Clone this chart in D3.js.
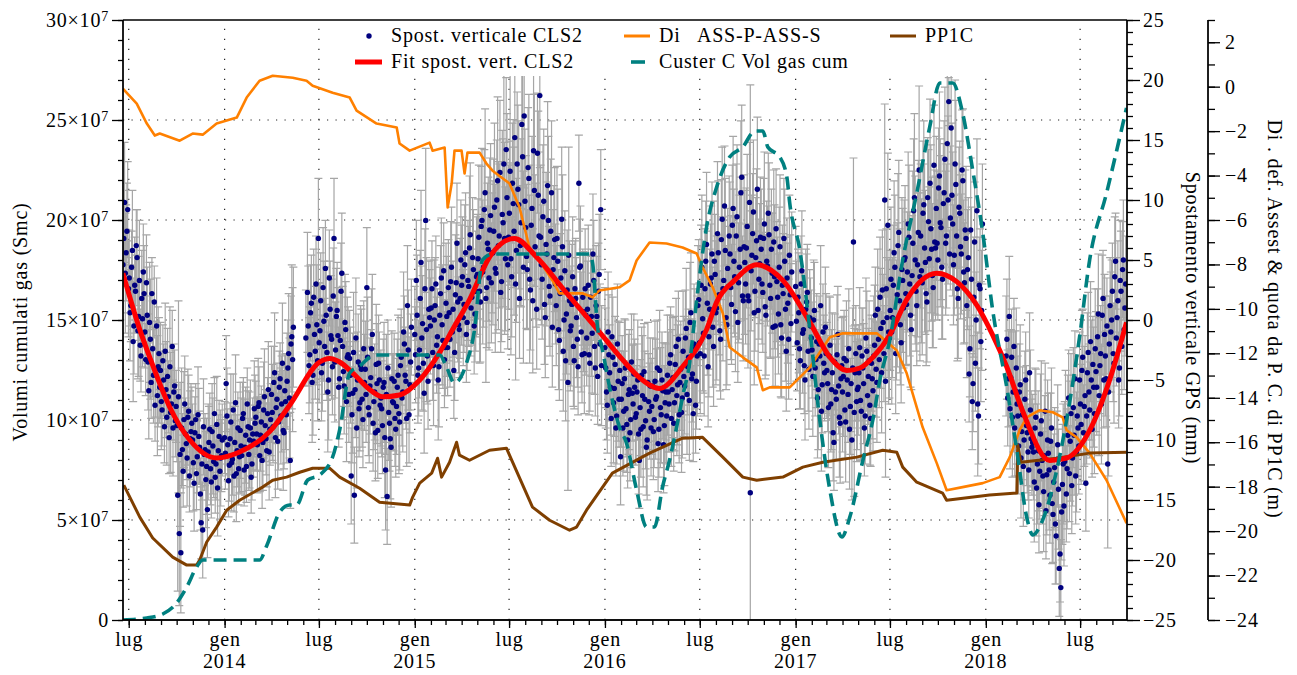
<!DOCTYPE html>
<html>
<head>
<meta charset="utf-8">
<script src="https://cdn.jsdelivr.net/npm/d3@7"></script>
<style>
body { margin: 0; background: #fff; }
svg text { font-family: "Liberation Serif", serif; font-size: 20px; letter-spacing: 0.8px; fill: #000; }
.axis path, .axis line { stroke: #000; stroke-width: 1.3; }
</style>
</head>
<body>
<svg id="chart" width="1297" height="675"></svg>
<script>
// ---- GPS vertical displacement (mm), one value every 3 days from each start date ----
const gps2013 = [4.6, 9.8, 5.6, 9.2,
  3.5, 1.2, 5.8, -0.5, 2.4, 5.2, 0.3, -2.1, 1.8, 4.0,
  -1.0, 3.1, -3.5, -0.2, -5.2, -2.4, 1.5, -4.1, -6.3, -2.8,
  -4.2, -7.5, -5.0, -2.6, -8.1, -6.4, -3.9, -7.0, -9.0, -5.5,
  -7.2, -14.6, -17.8, -19.4, -10.8, -8.3, -9.5, -11.5, -7.6, -9.9,
  -8.6, -11.9, -9.4, -12.8, -7.9, -10.6, -16.9, -17.5, -11.2, -13.3,
  -15.8, -10.2, -12.4, -9.3, -11.8, -13.1, -8.7, -10.9, -12.6, -11.3];
const gps2013b = [6.8, 3.9, 7.4, 2.6,
  0.6, 4.4, -1.8, 2.9, 6.2, -0.9, 3.3, -3.0, 0.1, 2.2,
  -3.3, 0.4, -5.9, -1.6, 2.2, -4.6, -7.1, -0.5, -3.9, -5.6,
  -6.8, -3.4, -8.9, -5.8, -4.7, -9.8, -7.7, -2.2, -6.0, -8.4,
  -8.8, -6.4, -11.2, -9.0, -12.6, -7.0, -10.3, -8.1, -13.0, -9.3,
  -10.0, -13.6, -8.3, -11.4, -9.7, -14.5, -12.0, -8.9, -10.8, -12.2,
  -11.0, -9.1, -13.5, -10.5, -7.8, -12.0, -14.0, -9.7, -11.5, -10.0];
const err2013 = [4, 5, 4, 4,
  4, 3, 5, 4, 3, 4, 5, 3, 4, 4,
  3, 4, 4, 5, 3, 4, 3, 4, 5, 3,
  4, 3, 3, 4, 4, 3, 5, 3, 4, 3,
  3, 8, 6, 5, 3, 4, 3, 4, 3, 4,
  3, 4, 3, 3, 4, 3, 3, 4, 3, 4,
  4, 3, 3, 4, 3, 3, 4, 3, 4, 3];

const gps2014 = [-9.8, -5.3, -10.4, -12.1, -8.5, -11.6, -13.0, -6.9, -10.9, -12.4,
  -9.2, -11.3, -7.8, -10.6, -12.2, -8.9, -10.0, -13.1, -9.5, -7.4,
  -8.1, -10.4, -6.9, -9.6, -11.7, -7.5, -8.8, -10.9, -5.8, -9.1,
  -6.2, -8.9, -4.4, -7.3, -10.1, -5.6, -8.0, -3.6, -9.4, -6.8,
  -5.1, -2.8, -11.7, -1.4, -0.6, null, null, null, null, null,
  null, null, -1.5, 2.3, -3.8, 0.6, -5.2, 1.9, -2.6, -0.4,
  6.8, -0.9, -4.4, 2.7, -2.2, 0.4, -6.0, 3.5, -1.3, -3.9,
  6.8, -2.5, 0.8, -5.6, -1.7, 3.9, -4.3, -0.2, -6.8, -2.9,
  -3.2, -13.0, -6.1, -14.6, -1.5, -5.0, -7.4, -3.8, -6.6, -2.4,
  -4.1, 2.7, -7.3, -5.5, -2.4, -8.6, -6.0, -3.7, -9.2, -5.0,
  -6.5, -8.8, -5.2, -12.5, -14.7, -7.7, -9.9, -4.9, -6.9, -8.2,
  -7.2, -4.6, -8.5, -3.1, -6.0, -2.0, -5.1, 1.2, -7.9, -3.5];
const gps2014b = [-11.1, -8.0, -13.4, -9.9, -11.9, -7.5, -10.2, -12.8, -9.0, -11.4,
  -10.5, -8.2, -12.5, -9.6, -7.0, -11.2, -9.0, -12.0, -10.1, -8.6,
  -9.5, -7.2, -11.3, -8.5, -10.2, -6.4, -9.9, -7.8, -11.0, -8.3,
  -7.7, -5.2, -9.8, -6.6, -8.5, -4.9, -7.0, -9.2, -5.9, -7.9,
  -4.0, -6.5, -2.0, -3.3, null, null, null, null, null, null,
  null, null, null, -0.5, -2.9, 1.4, -4.6, -1.2, 3.0, -3.4,
  -1.9, 1.6, -3.6, -0.1, 4.3, -2.7, -5.0, 0.9, -1.6, 2.0,
  -3.5, 0.3, -1.3, -4.9, 2.4, -2.2, -5.5, -0.8, -3.1, -6.2,
  -4.6, -7.9, -2.7, -5.8, -9.0, -3.5, -6.9, -4.1, -8.3, -5.2,
  -6.2, -3.1, -7.9, -4.8, -1.2, -6.8, -9.4, -5.3, -3.6, -7.1,
  -7.4, -5.6, -9.8, -6.2, -4.0, -8.6, -10.6, -6.8, -5.1, -9.1,
  -5.6, -7.8, -3.8, -6.5, -1.0, -4.6, -8.2, -2.5, -5.4, -0.6];
const err2014 = [3, 4, 3, 3, 4, 3, 3, 4, 3, 3,
  4, 3, 3, 4, 3, 3, 4, 3, 3, 4,
  3, 4, 3, 3, 4, 4, 3, 3, 4, 3,
  4, 3, 5, 3, 4, 3, 4, 5, 3, 4,
  4, 5, 4, 6, 5, 0, 0, 0, 0, 0,
  0, 0, 4, 5, 4, 4, 5, 4, 4, 5,
  5, 4, 4, 5, 4, 4, 5, 4, 5, 4,
  5, 4, 4, 5, 4, 5, 4, 4, 5, 4,
  4, 4, 5, 4, 5, 4, 4, 5, 4, 4,
  4, 5, 4, 4, 5, 4, 4, 5, 4, 4,
  4, 4, 5, 5, 4, 4, 5, 4, 4, 4,
  4, 5, 4, 4, 5, 4, 4, 5, 4, 4];

const gps2015 = [-1.2, 3.3, -4.6, -2.5, 4.8, -0.3, -6.1, 8.3, -3.0, 0.9,
  -0.5, 2.6, -3.8, 1.2, -2.1, -5.0, 0.4, 3.5, -1.7, -3.3,
  1.4, -2.3, 0.6, 3.2, -1.0, -4.2, 2.1, 6.4, -0.4, 1.8,
  2.9, 0.2, 4.6, -1.2, 3.3, 6.0, 1.0, 5.2, -0.5, 2.4,
  3.8, 6.9, 1.5, 8.3, 4.4, 10.6, 2.7, 5.9, 7.5, 3.1,
  5.6, 9.4, 3.9, 11.6, 7.0, 2.3, 8.8, 13.0, 5.1, 10.2,
  6.9, 12.4, 3.6, 9.7, 15.2, 5.8, 10.9, 1.8, 8.1, 13.6,
  17.0, 7.7, 4.2, 11.8, 2.5, 9.3, 14.1, 6.1, 0.9, 10.4,
  18.7, 4.6, 8.6, 1.3, 6.3, 11.2, 2.8, 7.4, -0.6, 5.2,
  3.0, 6.8, -0.8, 2.2, 8.4, -2.6, 4.1, 0.5, -5.2, 1.6,
  -0.5, 3.6, -3.4, 1.8, -1.6, 11.4, 4.5, -2.9, 0.7, 2.6,
  -1.5, 2.9, -3.6, 0.3, 5.5, -2.2, 1.2, -4.7, 3.8, 9.2];
const gps2015b = [-2.9, 0.4, -4.0, 1.8, -1.5, -3.6, 2.6, -0.8, -5.1, 0.2,
  1.0, -2.7, 0.0, 3.0, -1.4, -3.9, 2.2, -0.4, 4.1, -2.3,
  0.3, 2.7, -1.6, 4.4, 0.9, -2.7, 3.1, 1.5, -0.8, 5.0,
  3.6, 1.3, 5.6, -0.2, 2.8, 7.1, 1.9, 4.2, 0.5, 3.6,
  5.1, 2.4, 7.8, 4.0, 9.2, 1.8, 6.4, 3.5, 8.7, 5.6,
  7.4, 4.3, 10.0, 6.2, 12.3, 3.2, 8.1, 6.8, 14.2, 4.6,
  8.9, 5.1, 11.4, 7.4, 3.0, 13.0, 9.6, 6.2, 16.3, 4.4,
  9.9, 5.3, 12.7, 3.4, 7.9, 1.6, 10.8, 5.4, 13.9, 7.0,
  6.9, 3.4, 9.9, 0.2, 5.5, 8.3, 2.0, 10.6, 4.2, 6.7,
  1.2, 4.9, -1.7, 3.5, 6.1, 0.0, -3.4, 2.5, 5.4, -0.9,
  1.3, -2.2, 2.6, 0.2, -3.9, 4.4, -1.0, 1.9, -2.8, 0.4,
  0.9, -2.9, 1.9, -1.1, 3.3, -4.0, 0.3, 2.4, -2.0, -3.8];
const err2015 = [4, 5, 4, 4, 6, 4, 5, 6, 4, 4,
  4, 4, 5, 4, 4, 5, 4, 5, 4, 4,
  5, 4, 4, 5, 4, 4, 5, 5, 4, 5,
  5, 4, 5, 4, 5, 6, 4, 5, 4, 5,
  5, 6, 5, 6, 5, 7, 5, 6, 6, 5,
  6, 7, 5, 7, 6, 5, 7, 8, 6, 7,
  6, 8, 5, 7, 8, 6, 7, 5, 7, 8,
  6, 6, 5, 7, 5, 6, 8, 6, 5, 7,
  6, 5, 6, 5, 6, 7, 5, 6, 5, 6,
  5, 6, 5, 5, 6, 5, 5, 5, 9, 5,
  5, 5, 4, 5, 4, 4, 5, 4, 5, 5,
  4, 5, 4, 5, 5, 4, 5, 4, 5, 5];

const gps2016 = [-2.3, -6.0, -1.0, -4.4, -8.2, -3.1, -5.7, -9.0, -2.0, -6.6,
  -11.4, -5.3, -7.6, -4.0, -8.7, -6.2, -9.4, -3.5, -7.0, -5.6,
  -7.8, -5.0, -11.7, -9.1, -6.3, -4.3, -8.4, -10.0, -6.8, -5.5,
  -7.2, -9.3, -5.1, -6.4, -10.3, -4.2, -7.9, -5.9, -8.8, -6.0,
  -4.6, -7.0, -2.9, -5.8, -8.6, -3.7, -6.3, -1.6, -5.2, -7.7,
  -2.6, -5.5, -0.7, -3.9, -6.7, 0.6, -4.5, -2.0, -7.1, -3.0,
  1.7, -2.8, 4.4, -1.1, 2.6, 6.3, -3.9, 0.9, 3.5, -0.6,
  4.9, 0.6, 7.2, 2.1, -1.6, 8.4, 3.3, 5.8, -0.4, 2.8,
  5.5, 1.3, 9.3, 3.6, 7.0, -0.2, 4.4, 10.6, 2.0, 6.1,
  3.0, 7.8, 1.6, -14.4, 5.4, 9.0, 2.4, 6.6, 0.8, 4.7,
  5.9, 2.3, 8.0, 0.4, 4.5, 7.1, 1.8, 3.9, 6.5, -0.5,
  3.2, 0.5, 6.1, -1.5, 2.2, 4.9, -2.6, 1.4, 5.4, -0.3];
const gps2016b = [-4.0, -7.1, -2.9, -5.6, -1.4, -6.9, -3.7, -8.0, -5.1, -4.2,
  -6.6, -9.0, -4.9, -7.4, -10.0, -5.8, -8.3, -6.1, -4.5, -8.1,
  -6.0, -9.5, -7.3, -4.6, -8.9, -6.6, -10.6, -5.2, -7.6, -9.0,
  -5.5, -8.3, -6.6, -4.0, -9.1, -7.3, -5.0, -10.4, -6.9, -8.0,
  -6.0, -3.6, -8.2, -4.8, -6.9, -2.2, -5.4, -7.9, -4.1, -6.5,
  -4.7, -1.5, -6.2, -3.1, -0.2, -4.9, -7.8, -2.4, -5.1, 1.2,
  -1.9, 2.9, 0.1, -3.0, 4.9, 1.4, -1.4, 3.0, 5.5, -2.2,
  3.8, 1.0, 5.6, -0.9, 6.7, 2.6, 9.5, 0.2, 4.3, 7.0,
  2.7, 7.9, 4.9, 0.7, 8.6, 3.1, 5.9, 11.9, 1.6, 4.8,
  6.0, 2.0, 9.8, 4.1, 7.2, 0.6, 5.2, 10.9, 3.4, 6.9,
  3.0, 6.8, 1.1, 4.9, 8.9, 2.9, 5.9, -0.6, 3.6, 7.6,
  1.9, 4.4, -0.4, 2.9, 6.8, 0.9, 3.5, -1.6, 2.1, 4.0];
const err2016 = [5, 4, 5, 4, 4, 5, 4, 4, 5, 4,
  4, 4, 5, 4, 4, 5, 4, 4, 5, 4,
  4, 5, 4, 4, 5, 4, 4, 5, 4, 4,
  4, 4, 5, 4, 4, 5, 4, 4, 5, 4,
  5, 4, 4, 5, 4, 4, 5, 4, 4, 5,
  5, 4, 5, 4, 5, 5, 4, 5, 4, 5,
  5, 5, 6, 5, 5, 6, 5, 5, 6, 5,
  5, 6, 6, 5, 5, 6, 5, 6, 5, 5,
  6, 5, 6, 5, 6, 5, 6, 6, 5, 6,
  5, 6, 5, 34, 5, 6, 5, 6, 5, 5,
  5, 5, 6, 5, 5, 6, 5, 5, 6, 5,
  5, 5, 6, 5, 5, 6, 5, 5, 5, 5];
const err2016b = [5, 4, 5, 4, 4, 5, 4, 4, 5, 4,
  4, 4, 5, 4, 4, 5, 4, 4, 5, 4,
  4, 5, 4, 4, 5, 4, 4, 5, 4, 4,
  4, 4, 5, 4, 4, 5, 4, 4, 5, 4,
  5, 4, 4, 5, 4, 4, 5, 4, 4, 5,
  5, 4, 5, 4, 5, 5, 4, 5, 4, 5,
  5, 5, 6, 5, 5, 6, 5, 5, 6, 5,
  5, 6, 6, 5, 5, 6, 5, 6, 5, 5,
  6, 5, 6, 5, 6, 5, 6, 6, 5, 6,
  5, 6, 5, 5, 5, 6, 5, 6, 5, 5,
  5, 5, 6, 5, 5, 6, 5, 5, 6, 5,
  5, 5, 6, 5, 5, 6, 5, 5, 5, 5];

const gps2017 = [2.8, -1.9, 0.6, -3.4, 4.1, -0.8, -5.0, 1.5, -2.6, 0.2,
  -1.5, -4.7, 0.8, -3.3, -6.5, -2.0, 1.2, -5.4, -3.6, -0.6,
  -4.2, -7.3, -2.1, -5.8, -9.4, -3.5, -6.6, -1.2, -8.1, -4.9,
  -6.0, -3.2, -8.5, -5.0, -2.4, -7.2, -10.0, 6.5, -4.4, -6.8,
  -5.6, -2.3, -7.6, -4.0, -9.0, -1.5, -6.3, -3.4, -8.2, -4.9,
  -3.0, 0.4, -5.2, -1.6, 1.9, -4.4, -0.2, 10.0, 2.6, 7.9,
  -1.5, 3.4, 0.2, 5.6, -2.8, 2.1, 7.3, -0.4, 4.2, 1.0,
  5.2, 1.3, 8.0, 3.0, -0.8, 6.4, 10.2, 2.4, 4.6, 12.5,
  7.0, 3.1, 9.6, 4.8, 1.5, 8.2, 11.4, 5.9, 2.7, 6.5,
  9.3, 5.0, 12.0, 7.7, 3.4, 10.6, 6.4, 14.7, 18.2, 8.5,
  10.4, 4.6, 13.0, 7.0, 1.8, 8.9, 5.5, 11.6, 3.1, 6.8,
  4.2, -4.5, 7.5, -6.8, 1.9, -3.6, 9.1, -8.0, 2.6, 0.8];
const gps2017b = [-0.1, 1.9, -2.4, 3.0, -1.1, -3.8, 0.9, 2.3, -4.1, -0.5,
  -2.5, 0.0, -4.0, -1.8, -5.8, -3.0, -7.6, -1.0, -4.4, -2.8,
  -5.3, -3.0, -7.0, -4.4, -10.2, -6.0, -2.9, -5.5, -8.6, -3.8,
  -4.7, -7.5, -3.4, -6.2, -9.1, -5.3, -4.0, -7.7, -2.8, -5.8,
  -4.4, -6.7, -3.0, -5.3, -8.0, -2.6, -4.7, -7.1, -3.6, -5.9,
  -2.1, -4.1, 0.9, -3.3, -0.7, 2.5, -2.8, -5.1, 0.2, -1.0,
  0.8, -1.0, 2.9, 4.4, 0.0, 6.2, 1.6, -1.9, 3.3, 5.0,
  2.2, 4.0, 6.9, 0.4, 3.7, 9.1, 5.0, 1.2, 7.3, 3.6,
  4.1, 8.9, 6.0, 2.2, 10.2, 5.1, 7.6, 3.7, 12.9, 6.0,
  6.4, 11.0, 8.1, 4.4, 9.7, 13.4, 7.0, 10.0, 5.5, 16.0,
  8.0, 5.4, 11.3, 2.6, 9.4, 6.1, 12.5, 4.0, 7.5, 1.2,
  5.2, -2.4, 3.4, -5.3, 6.5, 0.0, -7.0, 2.9, -1.8, 8.0];
const err2017 = [5, 4, 5, 4, 5, 4, 5, 4, 5, 4,
  4, 5, 4, 4, 5, 4, 5, 4, 4, 5,
  4, 5, 4, 5, 4, 4, 5, 4, 5, 4,
  5, 4, 5, 4, 5, 4, 5, 7, 4, 5,
  4, 5, 4, 5, 4, 5, 4, 5, 4, 5,
  5, 4, 5, 4, 5, 5, 4, 8, 5, 6,
  5, 6, 5, 6, 5, 6, 6, 5, 6, 5,
  6, 5, 6, 6, 5, 6, 7, 5, 6, 7,
  6, 6, 7, 6, 5, 6, 7, 6, 5, 6,
  6, 5, 7, 6, 5, 6, 6, 7, 2, 6,
  6, 5, 7, 6, 5, 6, 5, 6, 5, 6,
  5, 4, 6, 4, 5, 4, 6, 4, 5, 5];

const gps2018 = [null, null, null, null, null, null, null, null, null, null,
  null, null, null, -3.0, -6.5, 0.3, -4.8, -8.1, -2.2, -5.9,
  -7.0, -10.5, -5.4, -9.3, -12.2, -6.6, -8.8, -11.0, -4.4, -9.9,
  -10.2, -13.5, -8.1, -12.0, -15.4, -9.5, -11.7, -14.3, -7.6, -12.9,
  -11.1, -14.6, -9.0, -16.2, -12.3, -18.0, -10.4, -20.7, -22.3, -13.7,
  -15.5, -8.2, -12.4, -6.5, -10.1, -13.8, -7.3, -4.9, -11.0, -9.0,
  -5.0, -8.7, -3.1, -7.2, -13.6, -4.4, -6.0, -1.8, -9.1, -5.6,
  -2.4, -5.6, 0.5, -3.8, -7.0, 1.8, -1.2, -4.9, -12.0, -2.0,
  -1.0, 2.4, -3.6, 4.9, 0.2, -5.0, 3.3, -2.2, 5.0, 1.0];
const gps2018b = [null, null, null, null, null, null, null, null, null, null,
  null, null, null, -1.6, -4.9, -7.4, -3.1, -6.0, -9.0, -4.0,
  -8.0, -6.0, -11.5, -7.9, -10.0, -5.0, -9.4, -12.5, -7.5, -10.6,
  -11.0, -9.0, -14.0, -10.9, -12.6, -8.4, -13.0, -11.3, -15.9, -10.0,
  -12.5, -10.1, -15.3, -13.5, -17.0, -11.6, -14.1, -19.5, -16.0, -12.0,
  -11.8, -14.5, -9.6, -12.8, -7.8, -11.5, -9.6, -13.0, -8.0, -10.5,
  -7.0, -4.2, -9.4, -6.3, -8.0, -2.7, -7.5, -5.0, -3.7, -7.8,
  -4.3, -1.4, -6.3, -2.8, 0.4, -5.0, -3.0, -0.5, -6.0, 1.2,
  0.0, -2.8, 3.6, -1.5, 1.6, -4.0, 2.4, 4.2, -0.8, 3.0];
const err2018 = [0, 0, 0, 0, 0, 0, 0, 0, 0, 0,
  0, 0, 0, 5, 4, 5, 4, 5, 4, 5,
  5, 4, 5, 4, 5, 4, 5, 4, 5, 4,
  4, 5, 4, 5, 4, 5, 4, 5, 4, 5,
  5, 4, 5, 4, 5, 4, 5, 4, 4, 5,
  5, 4, 5, 4, 5, 4, 5, 4, 5, 4,
  4, 5, 4, 5, 4, 5, 4, 5, 4, 5,
  5, 4, 5, 4, 5, 4, 5, 4, 7, 4,
  5, 4, 5, 4, 5, 4, 5, 4, 5, 4];

// ---- Fit of the GPS series (mm), dates as decimal years ----
const fitYears = [2013.465, 2013.554, 2013.606, 2013.711, 2013.817, 2013.958, 2014.079, 2014.237, 2014.342, 2014.500,
  2014.552, 2014.605, 2014.673, 2014.763, 2014.831, 2014.920, 2015.026, 2015.131, 2015.199, 2015.288,
  2015.393, 2015.524, 2015.640, 2015.798, 2015.971, 2016.092, 2016.181, 2016.286, 2016.407, 2016.533,
  2016.586, 2016.680, 2016.796, 2016.933, 2017.075, 2017.180, 2017.269, 2017.338, 2017.406, 2017.495,
  2017.584, 2017.742, 2017.847, 2017.952, 2018.036, 2018.110, 2018.194, 2018.336, 2018.425, 2018.546,
  2018.651, 2018.740];
const fitMm = [3.9, -0.8, -3.1, -7.25, -10, -11.5, -11, -9.3, -7.1, -3.5,
  -3.2, -3.5, -4.4, -5.8, -6.4, -6.25, -5, -2.7, -0.8, 1.7,
  5.25, 6.8, 5.25, 2.25, -1, -3.3, -4.8, -5.7, -3.9, -0.8,
  1.5, 3.3, 4.6, 3.3, -0.2, -3.1, -4.2, -4, -3.1, -1.25,
  1.7, 3.9, 3.2, 1.25, -1.25, -3.9, -7.6, -11.7, -11.5, -9.2,
  -5, -0.2];

// ---- Di ASS-P-ASS-S (m) ----
const orangeYears = [2013.465, 2013.538, 2013.591, 2013.633, 2013.659, 2013.764, 2013.832, 2013.885, 2013.958, 2014.064,
  2014.116, 2014.184, 2014.253, 2014.358, 2014.431, 2014.463, 2014.568, 2014.658, 2014.694, 2014.799,
  2014.905, 2014.920, 2014.973, 2015.078, 2015.094, 2015.157, 2015.173, 2015.194, 2015.209, 2015.246,
  2015.262, 2015.277, 2015.341, 2015.377, 2015.409, 2015.498, 2015.551, 2015.603, 2015.656, 2015.724,
  2015.761, 2015.882, 2015.935, 2015.971, 2016.076, 2016.129, 2016.166, 2016.234, 2016.323, 2016.407,
  2016.481, 2016.512, 2016.565, 2016.618, 2016.654, 2016.723, 2016.796, 2016.828, 2016.864, 2016.969,
  2017.075, 2017.180, 2017.248, 2017.427, 2017.532, 2017.584, 2017.668, 2017.742, 2017.794, 2017.878,
  2017.984, 2018.073, 2018.126, 2018.178, 2018.215, 2018.283, 2018.352, 2018.404, 2018.425, 2018.478,
  2018.546, 2018.635, 2018.740];
const orangeM = [-0.09, -0.76, -1.66, -2.20, -2.11, -2.43, -2.11, -2.16, -1.66, -1.39,
  -0.49, 0.27, 0.49, 0.40, 0.27, 0.04, -0.27, -0.49, -1.08, -1.66,
  -1.84, -2.56, -2.88, -2.52, -2.88, -2.74, -5.44, -4.36, -2.88, -2.88,
  -3.91, -2.97, -2.97, -3.46, -3.78, -4.36, -5.44, -7.24, -7.82, -8.72,
  -9.30, -9.30, -9.48, -9.17, -9.03, -8.72, -7.82, -7.01, -7.06, -7.24,
  -7.51, -8.13, -9.03, -10.20, -11.73, -12.18, -12.63, -13.66, -13.53, -13.53,
  -12.63, -11.28, -11.10, -11.10, -11.87, -12.90, -15.33, -16.94, -18.16, -18.02,
  -17.84, -17.57, -16.67, -15.46, -14.88, -14.56, -14.65, -14.88, -15.46, -15.78,
  -16.49, -17.71, -19.64];

// ---- PP1C (m) ----
const brownYears = [2013.470, 2013.554, 2013.622, 2013.727, 2013.801, 2013.853, 2013.869, 2013.906, 2013.958, 2014.011,
  2014.079, 2014.200, 2014.253, 2014.326, 2014.395, 2014.463, 2014.552, 2014.605, 2014.710, 2014.815,
  2014.973, 2014.989, 2015.026, 2015.089, 2015.120, 2015.141, 2015.183, 2015.220, 2015.235, 2015.288,
  2015.393, 2015.482, 2015.619, 2015.709, 2015.814, 2015.851, 2015.903, 2016.039, 2016.234, 2016.407,
  2016.512, 2016.618, 2016.723, 2016.796, 2016.933, 2017.038, 2017.143, 2017.322, 2017.458, 2017.532,
  2017.563, 2017.637, 2017.773, 2017.794, 2018.020, 2018.163, 2018.168, 2018.184, 2018.373, 2018.546,
  2018.740];
const brownM = [-17.93, -19.37, -20.31, -21.17, -21.53, -21.53, -21.30, -20.49, -19.82, -19.06,
  -18.61, -18.02, -17.71, -17.57, -17.35, -17.17, -17.17, -17.57, -18.07, -18.70,
  -18.83, -18.47, -17.84, -17.39, -16.72, -17.57, -16.90, -16.00, -16.58, -16.81,
  -16.36, -16.27, -18.92, -19.51, -19.96, -19.82, -19.06, -17.39, -16.49, -15.82,
  -15.78, -16.67, -17.57, -17.71, -17.57, -17.12, -16.90, -16.67, -16.36, -16.45,
  -17.12, -17.80, -18.29, -18.61, -18.38, -18.29, -16.13, -16.90, -16.72, -16.49,
  -16.45];

// ---- Cluster C cumulated gas volume (x 10^7 Smc) ----
const tealYears = [2013.465, 2013.591, 2013.675, 2013.748, 2013.801, 2013.853, 2013.885, 2014.184, 2014.221, 2014.290,
  2014.342, 2014.379, 2014.437, 2014.500, 2014.568, 2014.605, 2014.658, 2014.710, 2014.789, 2015.131,
  2015.167, 2015.209, 2015.272, 2015.314, 2015.356, 2015.409, 2015.919, 2015.935, 2015.961, 2015.987,
  2016.024, 2016.076, 2016.113, 2016.166, 2016.218, 2016.260, 2016.302, 2016.339, 2016.376, 2016.407,
  2016.444, 2016.481, 2016.533, 2016.586, 2016.654, 2016.723, 2016.786, 2016.828, 2016.854, 2016.917,
  2016.954, 2016.969, 2017.022, 2017.075, 2017.127, 2017.180, 2017.243, 2017.285, 2017.354, 2017.406,
  2017.443, 2017.495, 2017.563, 2017.637, 2017.705, 2017.758, 2017.826, 2017.878, 2017.931, 2017.984,
  2018.036, 2018.110, 2018.163, 2018.215, 2018.247, 2018.299, 2018.373, 2018.425, 2018.493, 2018.546,
  2018.635, 2018.740];
const tealVol = [0, 0.1, 0.3, 0.85, 1.65, 2.65, 3.0, 3.0, 3.7, 5.4,
  5.75, 5.75, 7.0, 7.25, 8.15, 9.5, 12.35, 12.7, 13.25, 13.25,
  12.65, 11.85, 12.85, 14.5, 18.0, 18.3, 18.3, 17.85, 14.65, 13.5,
  11.65, 9.65, 8.85, 6.5, 4.65, 4.65, 6.65, 8.0, 9.65, 11.15,
  12.85, 16.0, 19.65, 21.65, 23.15, 23.65, 24.45, 24.45, 23.65, 23.15,
  22.15, 20.85, 18.5, 14.5, 10.0, 6.5, 4.15, 5.15, 8.0, 10.0,
  12.0, 14.0, 18.0, 21.35, 24.65, 26.85, 26.85, 25.35, 22.5, 19.35,
  15.5, 11.65, 8.5, 5.15, 4.25, 5.0, 7.5, 10.0, 14.15, 18.0,
  21.35, 25.6];

// ---- axis ticks ----
const leftMajor = [0, 5, 10, 15, 20, 25, 30];
const gridVol = [5, 10, 15, 20, 25];
const yearLabels = [2014, 2015, 2016, 2017, 2018];
const monthNames = {0: "gen", 6: "lug"};

const parseDay = d3.utcParse("%Y-%m-%d");

function yearToDate(t) {
    const y = Math.floor(t);
    const a = Date.UTC(y, 0, 1), b = Date.UTC(y + 1, 0, 1);
    return new Date(a + (t - y) * (b - a));
}

const svg = d3.select("#chart");
const plot = {left: 123, right: 1127, top: 20, bottom: 620};

const x = d3.scaleUtc()
    .domain([parseDay("2013-06-20"), parseDay("2018-09-29")])
    .range([plot.left, plot.right]);
const yLeft = d3.scaleLinear().domain([0, 30]).range([plot.bottom, plot.top]);
const yGps = d3.scaleLinear().domain([-25, 25]).range([plot.bottom, plot.top]);
const yM = d3.scaleLinear().domain([-24, 3]).range([plot.bottom, plot.top]);

// two interleaved sample sets, the second shifted by 36 hours
const gpsBlocks = [
    ["2013-06-20", 0, gps2013, err2013], ["2013-06-20", 36, gps2013b, err2013],
    ["2014-01-01", 0, gps2014, err2014], ["2014-01-01", 36, gps2014b, err2014],
    ["2015-01-01", 0, gps2015, err2015], ["2015-01-01", 36, gps2015b, err2015],
    ["2016-01-01", 0, gps2016, err2016], ["2016-01-01", 36, gps2016b, err2016b],
    ["2017-01-01", 0, gps2017, err2017], ["2017-01-01", 36, gps2017b, err2017],
    ["2018-01-01", 0, gps2018, err2018], ["2018-01-01", 36, gps2018b, err2018]
];
const gpsPoints = [];
gpsBlocks.forEach(([start, shift, vals, errs]) => {
    vals.forEach((v, i) => {
        if (v === null) return;
        gpsPoints.push({date: d3.utcHour.offset(parseDay(start), 72 * i + shift), v: v, e: errs[i]});
    });
});

const toSeries = (years, vals) => d3.zip(years, vals).map(([t, v]) => ({date: yearToDate(t), v: v}));
const fitData = toSeries(fitYears, fitMm);
const orangeData = toSeries(orangeYears, orangeM);
const brownData = toSeries(brownYears, brownM);
const tealData = toSeries(tealYears, tealVol);

const xMinor = d3.utcMonth.range(parseDay("2013-07-01"), parseDay("2018-09-30"));
const xMajor = xMinor.filter(d => d.getUTCMonth() % 6 === 0);

svg.append("rect").attr("width", 1297).attr("height", 675).attr("fill", "#fff");

svg.append("defs").append("clipPath").attr("id", "plotClip")
    .append("rect")
    .attr("x", plot.left).attr("y", plot.top)
    .attr("width", plot.right - plot.left).attr("height", plot.bottom - plot.top);

// dotted grid
const grid = svg.append("g").attr("stroke", "#222").attr("stroke-width", 1.2);
grid.selectAll("line.v").data(xMajor).join("line")
    .attr("class", "v")
    .attr("x1", d => x(d)).attr("x2", d => x(d))
    .attr("y1", plot.bottom).attr("y2", plot.top)
    .attr("stroke-dasharray", "1.2,8.8");
grid.selectAll("line.h").data(gridVol).join("line")
    .attr("class", "h")
    .attr("x1", plot.left).attr("x2", plot.right)
    .attr("y1", d => yLeft(d)).attr("y2", d => yLeft(d))
    .attr("stroke-dasharray", "1.2,7.3");

const layer = svg.append("g").attr("clip-path", "url(#plotClip)");

// error bars
layer.append("g")
    .attr("stroke", "#a6a6a6").attr("stroke-width", 1.2).attr("fill", "none")
    .selectAll("path").data(gpsPoints).join("path")
    .attr("d", d => {
        const px = x(d.date), y1 = yGps(d.v - d.e), y2 = yGps(d.v + d.e);
        return `M${px},${y1}V${y2}M${px - 4},${y1}H${px + 4}M${px - 4},${y2}H${px + 4}`;
    });

layer.append("g").attr("fill", "#00007f")
    .selectAll("circle").data(gpsPoints).join("circle")
    .attr("cx", d => x(d.date))
    .attr("cy", d => yGps(d.v))
    .attr("r", 2.7);

layer.append("path").datum(orangeData)
    .attr("fill", "none").attr("stroke", "#ff8000").attr("stroke-width", 2.6)
    .attr("stroke-linejoin", "round")
    .attr("d", d3.line().x(d => x(d.date)).y(d => yM(d.v)));

layer.append("path").datum(brownData)
    .attr("fill", "none").attr("stroke", "#7f3f00").attr("stroke-width", 3)
    .attr("stroke-linejoin", "round")
    .attr("d", d3.line().x(d => x(d.date)).y(d => yM(d.v)));

layer.append("path").datum(fitData)
    .attr("fill", "none").attr("stroke", "#ff0000").attr("stroke-width", 5)
    .attr("d", d3.line().curve(d3.curveMonotoneX).x(d => x(d.date)).y(d => yGps(d.v)));

layer.append("path").datum(tealData)
    .attr("fill", "none").attr("stroke", "#008080").attr("stroke-width", 3.6)
    .attr("stroke-dasharray", "13,7")
    .attr("d", d3.line().curve(d3.curveMonotoneX).x(d => x(d.date)).y(d => yLeft(d.v)));

// axes
const gx = svg.append("g").attr("class", "axis").attr("transform", `translate(0,${plot.bottom})`);
gx.call(d3.axisBottom(x).tickValues(xMinor).tickSize(5).tickSizeOuter(0).tickFormat(""));
gx.append("g").call(d3.axisBottom(x).tickValues(xMajor).tickSize(8).tickSizeOuter(0).tickPadding(4)
    .tickFormat(d => monthNames[d.getUTCMonth()]));
gx.selectAll(".domain").attr("d", `M${plot.left},0H${plot.right}`);
gx.selectAll("text").attr("fill", null);
svg.append("g").selectAll("text").data(yearLabels).join("text")
    .attr("x", d => x(new Date(Date.UTC(d, 0, 1))))
    .attr("y", 668)
    .attr("text-anchor", "middle")
    .text(d => d);

svg.append("line").attr("x1", plot.left).attr("x2", plot.right)
    .attr("y1", plot.top).attr("y2", plot.top)
    .attr("stroke", "#000").attr("stroke-width", 1.3);

const gl = svg.append("g").attr("class", "axis").attr("transform", `translate(${plot.left},0)`);
gl.call(d3.axisLeft(yLeft).tickValues(d3.range(0, 31, 1)).tickSize(5).tickSizeOuter(0).tickFormat(""));
gl.append("g").call(d3.axisLeft(yLeft).tickValues(leftMajor).tickSize(11).tickSizeOuter(0).tickFormat(""));
gl.selectAll(".domain").attr("d", `M0,${plot.top}V${plot.bottom}`);
gl.selectAll("text.lbl").data(leftMajor).join("text")
    .attr("class", "lbl")
    .attr("x", -14)
    .attr("y", d => yLeft(d))
    .attr("dy", "0.33em")
    .attr("text-anchor", "end")
    .each(function (d) {
        const t = d3.select(this);
        if (d === 0) { t.text("0"); return; }
        t.append("tspan").text(d + "×10");
        t.append("tspan").attr("dy", "-0.42em").attr("font-size", "14px").text("7");
    });

const gr = svg.append("g").attr("class", "axis").attr("transform", `translate(${plot.right},0)`);
gr.call(d3.axisRight(yGps).tickValues(d3.range(-25, 26, 1)).tickSize(6).tickSizeOuter(0).tickFormat(""));
gr.append("g").call(d3.axisRight(yGps).tickValues(d3.range(-25, 26, 5)).tickSize(13).tickSizeOuter(0)
    .tickPadding(3).tickFormat(d3.format("d")));
gr.selectAll(".domain").attr("d", `M0,${plot.top}V${plot.bottom}`);
gr.selectAll("text").attr("fill", null);

const g3 = svg.append("g").attr("class", "axis").attr("transform", "translate(1208,0)");
g3.call(d3.axisRight(yM).tickValues(d3.range(-24, 4, 1)).tickSize(7).tickSizeOuter(0).tickFormat(""));
g3.append("g").call(d3.axisRight(yM).tickValues(d3.range(-24, 3, 2)).tickSize(12).tickSizeOuter(0)
    .tickPadding(5).tickFormat(d3.format("d")));
g3.selectAll(".domain").attr("d", `M0,${plot.top}V${plot.bottom}`);
g3.selectAll("text").attr("fill", null);

// axis titles
svg.append("text").attr("transform", "translate(27,322) rotate(-90)")
    .attr("text-anchor", "middle").text("Volumi cumulati gas (Smc)");
svg.append("text").attr("transform", "translate(1186,318) rotate(90)")
    .attr("text-anchor", "middle").text("Spostamento verticale GPS (mm)");
svg.append("text").attr("transform", "translate(1268,319) rotate(90)")
    .attr("text-anchor", "middle").text("Di . def. Assest & quota da P. C. di PP1C (m)");

// legend
const lg = svg.append("g");
lg.append("rect").attr("x", 345).attr("y", 22).attr("width", 645).attr("height", 54).attr("fill", "#fff");
lg.append("circle").attr("cx", 369).attr("cy", 36).attr("r", 2.7).attr("fill", "#00007f");
lg.append("text").attr("x", 391).attr("y", 42).text("Spost. verticale CLS2");
lg.append("line").attr("x1", 624).attr("x2", 650).attr("y1", 36).attr("y2", 36)
    .attr("stroke", "#ff8000").attr("stroke-width", 3);
lg.append("text").attr("x", 659).attr("y", 42).style("white-space", "pre").text("Di   ASS-P-ASS-S");
lg.append("line").attr("x1", 890).attr("x2", 916).attr("y1", 36).attr("y2", 36)
    .attr("stroke", "#7f3f00").attr("stroke-width", 3);
lg.append("text").attr("x", 925).attr("y", 42).text("PP1C");
lg.append("line").attr("x1", 355).attr("x2", 382).attr("y1", 62).attr("y2", 62)
    .attr("stroke", "#ff0000").attr("stroke-width", 5);
lg.append("text").attr("x", 391).attr("y", 68).text("Fit spost. vert. CLS2");
lg.append("line").attr("x1", 631).attr("x2", 645).attr("y1", 62).attr("y2", 62)
    .attr("stroke", "#008080").attr("stroke-width", 3.6);
lg.append("text").attr("x", 659).attr("y", 68).text("Custer C Vol gas cum");
</script>
</body>
</html>
